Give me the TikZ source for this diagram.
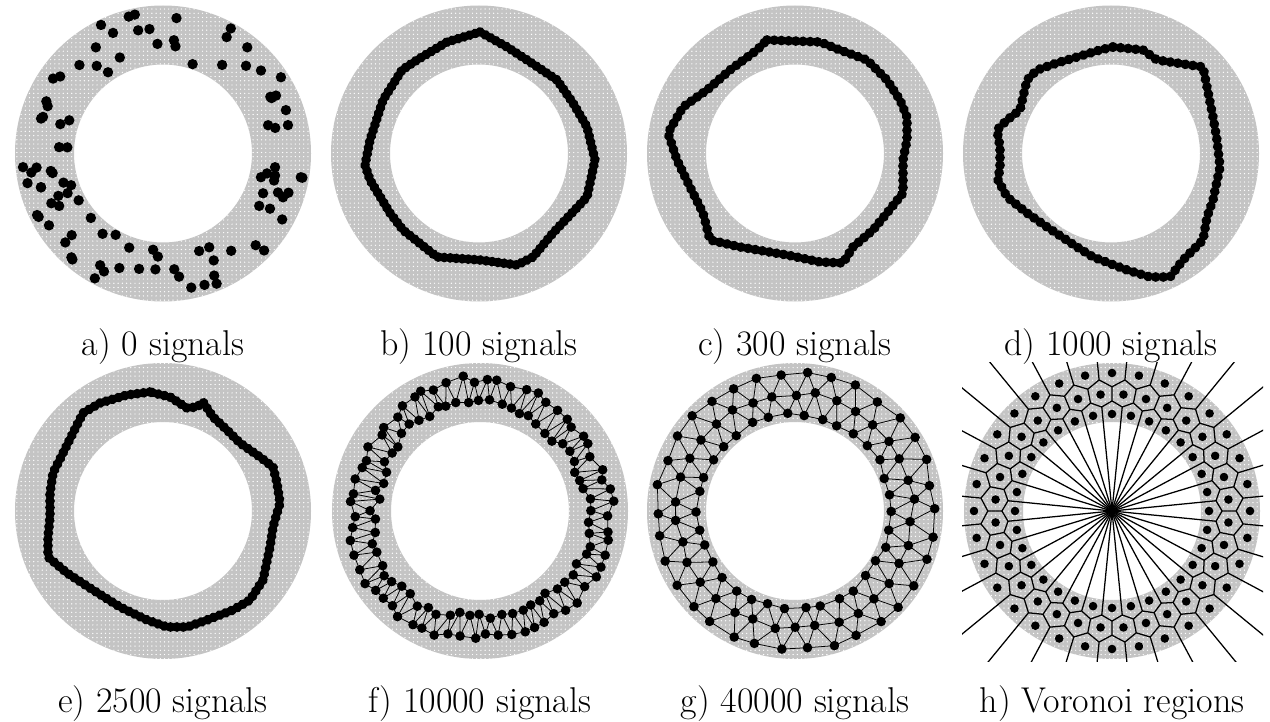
\documentclass[tikz,border=0pt]{standalone}
\usepackage{tikz}
\usetikzlibrary{calc,decorations.markings,patterns}
\definecolor{RingGray}{HTML}{C4C4C4}
\definecolor{Ink}{HTML}{000000}
\tikzset{
  ringfill/.style={fill=RingGray,even odd rule,postaction={pattern=dots,pattern color=white}},
  chain/.style={draw=Ink,line width=1.4pt,line join=round,postaction={decorate},
    decoration={markings,mark=between positions 0 and 1 step #1 with {\fill[Ink] (0,0) circle (4.9);}}},
  gnglink/.style={draw=Ink,line width=0.55pt},
  vorline/.style={draw=Ink,line width=0.9pt},
  caplabel/.style={anchor=base,font=\fontsize{25.5}{30}\selectfont,text=Ink}
}

\begin{document}
\begin{tikzpicture}[x=0.025cm,y=-0.025cm]
  \useasboundingbox (0,0) rectangle (1270,722);
  \fill[white] (0,0) rectangle (1270,722);
  \foreach \p in {(163,153.5),(479,153.5),(795,153.5),(1111,153.5),(163,511),(480,511),(795,511)}
    \fill[ringfill] \p circle (148) circle (89);

  % a) random units
  \pgfmathsetseed{41}
  \begin{scope}[shift={(163,153.5)}]
    \foreach \i in {1,...,100}{
      \pgfmathsetmacro\ang{360*rnd}
      \pgfmathsetmacro\rad{10*sqrt(9.4^2+rnd*(14.3^2-9.4^2))}
      \fill[Ink] (\ang:\rad) circle (5.2);
    }
  \end{scope}

  % b) -- e) closed chains
  \path[chain=0.15cm] (480,32) -- (507,47) -- (527,60) -- (557,80) -- (573,103) -- (587,127)
    -- (595,160) -- (587,197) -- (553,233) -- (533,257) -- (517,265) -- (480,260) -- (437,257)
    -- (403,230) -- (390,213) -- (370,180) -- (365,165) -- (370,140) -- (383,100) -- (402,70)
    -- (417,60) -- (447,42) -- cycle;
  \path[chain=0.18cm] (767,40) -- (820,42) -- (840,50) -- (867,60) -- (887,80) -- (900,100)
    -- (907,117) -- (907,140) -- (903,160) -- (903,193) -- (887,213) -- (873,230) -- (853,247)
    -- (843,263) -- (820,262) -- (787,255) -- (740,247) -- (710,240) -- (703,213) -- (690,187)
    -- (677,160) -- (668,133) -- (683,107) -- (707,90) -- (730,70) -- (757,50) -- cycle;
  \path[chain=0.19cm] (1113,47) -- (1143,50) -- (1157,60) -- (1203,67) -- (1207,87) -- (1213,117)
    -- (1217,140) -- (1220,167) -- (1213,200) -- (1207,217) -- (1203,240) -- (1183,260)
    -- (1170,277) -- (1150,277) -- (1127,270) -- (1093,257) -- (1077,247) -- (1047,227)
    -- (1027,213) -- (1007,197) -- (998,180) -- (1000,167) -- (1000,147) -- (997,130)
    -- (1007,120) -- (1020,110) -- (1023,97) -- (1027,80) -- (1037,70) -- (1057,63)
    -- (1077,57) -- (1100,50) -- cycle;
  \path[chain=0.16cm] (150,392) -- (127,395) -- (100,403) -- (83,413) -- (73,433) -- (63,453)
    -- (53,473) -- (50,493) -- (50,517) -- (48,537) -- (48,557) -- (67,573) -- (93,590)
    -- (120,607) -- (147,620) -- (167,627) -- (187,627) -- (207,620) -- (233,610) -- (250,600)
    -- (263,580) -- (270,547) -- (273,527) -- (280,503) -- (277,483) -- (273,467) -- (260,457)
    -- (240,443) -- (227,430) -- (213,417) -- (203,402) -- (197,407) -- (187,408) -- (170,397)
    -- cycle;

  % f) two-row band
  \pgfmathsetseed{7}
  \begin{scope}[shift={(480,511)}]
    \foreach \k/\r in {0/108,1/129}{
      \foreach \j in {0,...,63}{
        \pgfmathsetmacro\ang{(\j+0.5*\k)*5.625+1.5*rand}
        \pgfmathsetmacro\rad{\r+4*sin(3*\ang+30)+4*rand}
        \coordinate (f\k-\j) at (\ang:\rad);
      }
    }
  \end{scope}
  \foreach \j in {0,...,63}{
    \pgfmathtruncatemacro\n{mod(\j+1,64)}
    \draw[gnglink] (f0-\j) -- (f0-\n) (f1-\j) -- (f1-\n) (f0-\j) -- (f1-\j) -- (f0-\n);
  }
  \foreach \k in {0,1}{\foreach \j in {0,...,63}{\fill[Ink] (f\k-\j) circle (4.8);}}

  % g) three-row mesh
  \pgfmathsetseed{19}
  \begin{scope}[shift={(795,511)}]
    \foreach \k/\r in {0/97,1/118,2/139}{
      \foreach \j in {0,...,33}{
        \pgfmathsetmacro\ang{(\j+0.5*\k)*360/34+1.2*rand}
        \pgfmathsetmacro\rad{\r+2.5*rand}
        \coordinate (g\k-\j) at (\ang:\rad);
      }
    }
  \end{scope}
  \foreach \j in {0,...,33}{
    \pgfmathtruncatemacro\n{mod(\j+1,34)}
    \draw[gnglink] (g0-\j) -- (g0-\n) (g1-\j) -- (g1-\n) (g2-\j) -- (g2-\n)
      (g0-\j) -- (g1-\j) -- (g0-\n) (g1-\j) -- (g2-\j) -- (g1-\n);
  }
  \foreach \k in {0,1,2}{\foreach \j in {0,...,33}{\fill[Ink] (g\k-\j) circle (4.8);}}

  % h) Voronoi regions
  \begin{scope}
    \clip (962,362) rectangle (1263,661);
    \begin{scope}[shift={(1112,511)}]
      \fill[ringfill] (0,0) circle (148) circle (89);
      \coordinate (hc) at (0,0);
      \foreach \m in {0,...,31}{
        \pgfmathsetmacro\a{\m*11.25}
        \pgfmathsetmacro\b{\a+5.625}
        \pgfmathsetmacro\c{\a+11.25}
        \draw[vorline] (hc) -- (\b:104.5)
          (\a:110.1) -- (\b:104.5) -- (\c:110.1)
          (\a:110.1) -- (\a:124.2)
          (\a:124.2) -- (\b:131.7) -- (\c:124.2)
          (\b:131.7) -- (\b:260);
        \fill[Ink] (\a:97) circle (4.3) (\b:117) circle (4.3) (\a:138) circle (4.3);
      }
    \end{scope}
  \end{scope}

  \node[caplabel] (la) at (163,355) {a) 0 signals};
  \node[caplabel] (lb) at (479,355) {b) 100 signals};
  \node[caplabel] (lc) at (795,355) {c) 300 signals};
  \node[caplabel] (ld) at (1111,355) {d) 1000 signals};
  \node[caplabel] (le) at (163,712) {e) 2500 signals};
  \node[caplabel] (lf) at (480,712) {f) 10000 signals};
  \node[caplabel] (lg) at (795,712) {g) 40000 signals};
  \node[caplabel] (lh) at (1112,712) {h) Voronoi regions};
\end{tikzpicture}
\end{document}
